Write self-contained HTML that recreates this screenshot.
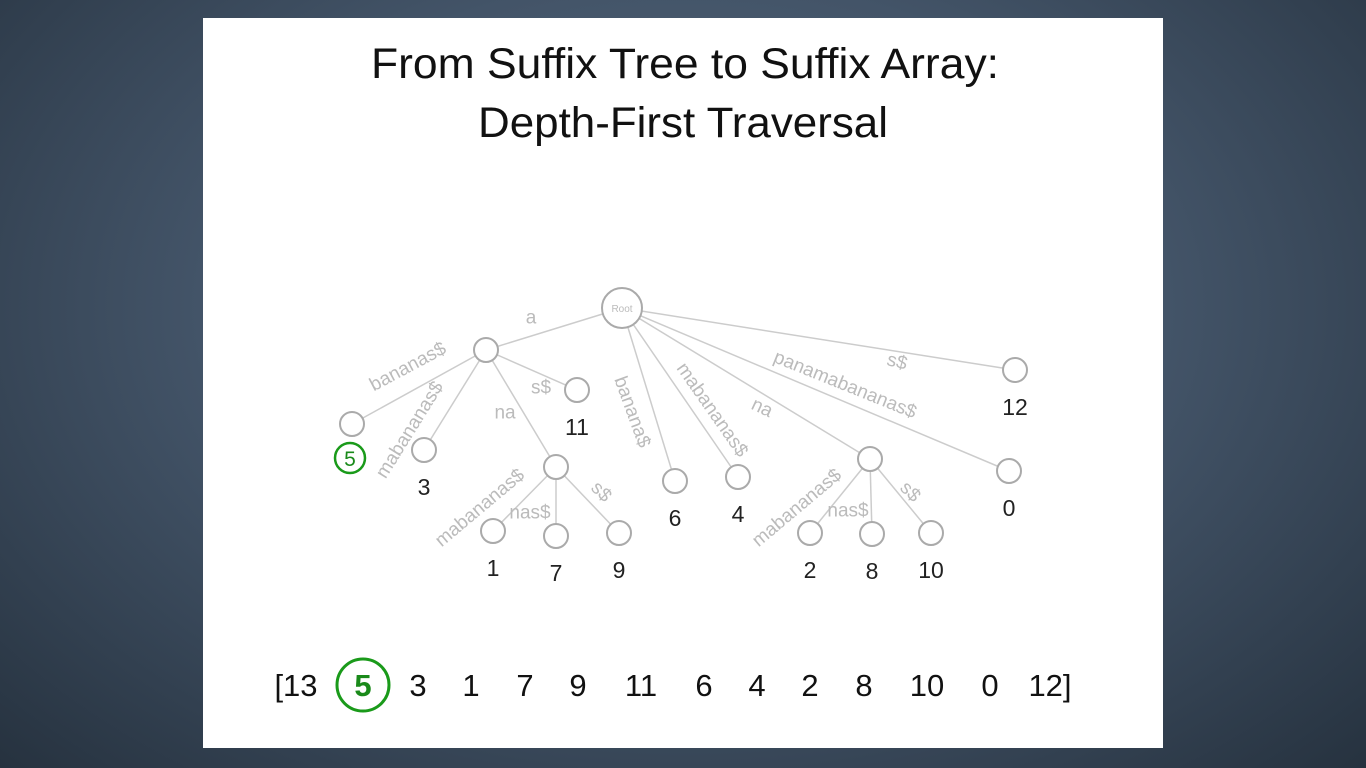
<!DOCTYPE html>
<html><head><meta charset="utf-8"><style>
html,body{margin:0;padding:0;width:1366px;height:768px;overflow:hidden}
body{background:radial-gradient(ellipse at 50% 40%,#5a6c80 0%,#435468 50%,#26323f 100%);font-family:"Liberation Sans",sans-serif}
#slide{position:absolute;left:203px;top:18px;width:960px;height:730px;background:#fff}
svg{position:absolute;left:0;top:0}
</style></head><body>
<div id="slide"></div>
<svg width="1366" height="768">
<g font-family="Liberation Sans, sans-serif" text-anchor="middle" fill="#111">
<text x="685" y="78" font-size="43" textLength="628" lengthAdjust="spacingAndGlyphs">From Suffix Tree to Suffix Array:</text>
<text x="683" y="137" font-size="43" textLength="410" lengthAdjust="spacingAndGlyphs">Depth-First Traversal</text>
</g>
<g id="edges" stroke="#ccc" stroke-width="1.5" fill="none"></g>
<g id="nodes" stroke="#aaa" stroke-width="2" fill="#fff"></g>
<g id="elabels" font-family="Liberation Sans, sans-serif" font-size="19" fill="#bbb" text-anchor="middle" dominant-baseline="central"></g>
<g id="nlabels" font-family="Liberation Sans, sans-serif" font-size="23" fill="#222" text-anchor="middle"></g>
<circle cx="622" cy="308" r="20" fill="#fff" stroke="#aaa" stroke-width="2"/>
<text x="622" y="312" font-size="10" fill="#bbb" text-anchor="middle" font-family="Liberation Sans, sans-serif">Root</text>
<circle cx="350" cy="458" r="15" fill="#fff" stroke="#1a9a1a" stroke-width="2.5"/>
<text x="350" y="466" font-size="21" fill="#1a8a1a" text-anchor="middle" font-family="Liberation Sans, sans-serif">5</text>
<g id="array" font-family="Liberation Sans, sans-serif" font-size="31" fill="#111" text-anchor="middle"></g>
<circle cx="363" cy="685" r="26" fill="none" stroke="#1a9a1a" stroke-width="3"/>
</svg>
<script>
const NS='http://www.w3.org/2000/svg';
const nodeIds=['A','L5','L3','L11','N1','L1','L7','L9','L6','L4','N2','L2','L8','L10','L0','L12'];
const nodeX=[486,352,424,577,556,493,556,619,675,738,870,810,872,931,1009,1015];
const nodeY=[350,424,450,390,467,531,536,533,481,477,459,533,534,533,471,370];
const nodeLabel=['','','3','11','','1','7','9','6','4','','2','8','10','0','12'];
const edgeFrom=['R','A','A','A','A','N1','N1','N1','R','R','R','N2','N2','N2','R','R'];
const edgeTo=['A','L5','L3','L11','N1','L1','L7','L9','L6','L4','N2','L2','L8','L10','L0','L12'];
const edgeText=['a','bananas$','mabananas$','s$','na','mabananas$','nas$','s$','banana$','mabananas$','na','mabananas$','nas$','s$','panamabananas$','s$'];
const labelX=[531,408,410,541,505,480,530,601,632,712,762,797,848,910,845,897];
const labelY=[318,367,430,388,413,508,513,492,412,410,408,508,511,492,385,362];
const labelRot=[0,-28,-58,0,0,-40,0,45,70,55,25,-40,0,45,22,15];
const arrayVals=['[13','5','3','1','7','9','11','6','4','2','8','10','0','12]'];
const arrayX=[296,363,418,471,525,578,641,704,757,810,864,927,990,1050];
function pos(id){if(id==='R')return[622,308,20];const i=nodeIds.indexOf(id);return[nodeX[i],nodeY[i],12];}
const eg=document.getElementById('edges'),ng=document.getElementById('nodes'),el=document.getElementById('elabels'),nl=document.getElementById('nlabels'),ag=document.getElementById('array');
edgeFrom.forEach((f,i)=>{const a=pos(f),b=pos(edgeTo[i]);const l=document.createElementNS(NS,'line');
l.setAttribute('x1',a[0]);l.setAttribute('y1',a[1]);l.setAttribute('x2',b[0]);l.setAttribute('y2',b[1]);

eg.appendChild(l);
const t=document.createElementNS(NS,'text');
t.setAttribute('transform',`translate(${labelX[i]},${labelY[i]}) rotate(${labelRot[i]})`);t.textContent=edgeText[i];

el.appendChild(t);});
nodeIds.forEach((id,i)=>{const c=document.createElementNS(NS,'circle');c.setAttribute('cx',nodeX[i]);c.setAttribute('cy',nodeY[i]);c.setAttribute('r',12);

ng.appendChild(c);
if(nodeLabel[i]){const t=document.createElementNS(NS,'text');t.setAttribute('x',nodeX[i]);t.setAttribute('y',nodeY[i]+45);t.textContent=nodeLabel[i];

nl.appendChild(t);}});
arrayVals.forEach((v,i)=>{const t=document.createElementNS(NS,'text');t.setAttribute('x',arrayX[i]);t.setAttribute('y',696);t.textContent=v;
if(i===1){t.setAttribute('fill','#1a8a1a');t.setAttribute('font-weight','bold');}

ag.appendChild(t);});
</script>
</body></html>
